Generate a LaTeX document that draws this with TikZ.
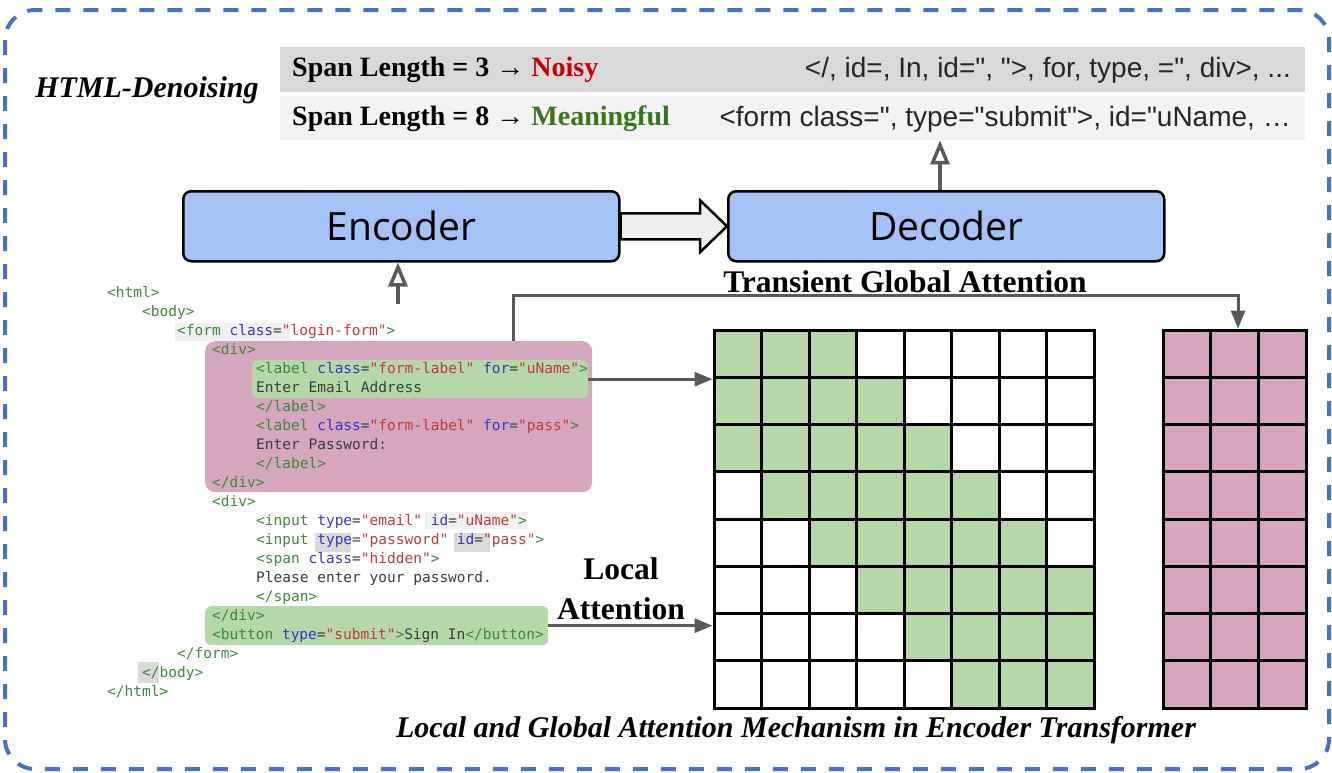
\documentclass[tikz,border=0pt]{standalone}
\usepackage{fontspec}
\setmainfont{Liberation Serif}
\newfontfamily\tokfont{Liberation Sans}
\newfontfamily\boxfont{Open Sans}
\newfontfamily\codefont{DejaVu Sans Mono}
\usetikzlibrary{arrows.meta,calc}

\definecolor{frameblue}{HTML}{4472C4}
\definecolor{barA}{HTML}{D9D9D9}
\definecolor{barB}{HTML}{F3F3F3}
\definecolor{noisy}{HTML}{CC0000}
\definecolor{meaning}{HTML}{38761D}
\definecolor{tokc}{HTML}{262626}
\definecolor{coderblue}{HTML}{A4C2F4}
\definecolor{blockfill}{HTML}{EFEFEF}
\definecolor{conngray}{HTML}{595959}
\definecolor{locg}{HTML}{B6D7A8}
\definecolor{globp}{HTML}{D5A6BD}
\definecolor{tagc}{HTML}{3A8A3A}
\definecolor{attc}{HTML}{3535C8}
\definecolor{valc}{HTML}{C03A3A}
\definecolor{txtc}{HTML}{3C3C3C}
\definecolor{selA}{HTML}{F0F0F0}
\definecolor{selB}{HTML}{DADADA}

% syntax colouring for the HTML listing
\newcommand\ctag[1]{\textcolor{tagc}{#1}}
\newcommand\catt[1]{\textcolor{attc}{#1}}
\newcommand\cval[1]{\textcolor{valc}{#1}}
\newcommand\ctxt[1]{\textcolor{txtc}{#1}}
\newcommand\ceq{\textcolor{txtc}{=}}

\begin{document}
\begin{tikzpicture}[x=1pt,y=-1pt,
  frame/.style={draw=frameblue, line width=4, rounded corners=30, dash pattern=on 15 off 13},
  bar/.style={rectangle, inner sep=0, minimum width=1025, anchor=north west},
  spanlbl/.style={font=\fontsize{28}{32}\selectfont\bfseries, inner sep=0, anchor=west},
  toklbl/.style={font=\tokfont\fontsize{28}{32}\selectfont, text=tokc, inner sep=0, anchor=east},
  titleBI/.style={font=\fontsize{30}{34}\selectfont\bfseries\itshape, inner sep=0},
  titleB/.style={font=\fontsize{31.5}{40}\selectfont\bfseries, inner sep=0, align=center},
  coder/.style={rectangle, draw=black, line width=2.5, rounded corners=8, fill=coderblue,
    minimum width=436, minimum height=70, anchor=north west,
    font=\boxfont\fontsize{39}{42}\selectfont},
  blockarrow/.style={draw=black, line width=2.5, fill=blockfill, line join=miter},
  hollow/.style={draw=conngray, line width=4, -{Triangle[open, length=24, width=19, line width=3.5]}},
  conn/.style={draw=conngray, line width=3, -{Triangle[length=18, width=14]}},
  codeline/.style={font=\codefont\fontsize{14.5}{19}\selectfont, inner sep=0, anchor=west,
    text height=11, text depth=3.5},
  hlbox/.style={rectangle, inner sep=0, anchor=north west},
  cell/.style={rectangle, draw=black, line width=3, inner sep=0}
]
\useasboundingbox (0,0) rectangle (1332,772);

% dashed outer frame
\draw[frame] (5,10) rectangle (1329,769);

% span-length rows
\node[bar, fill=barA, minimum height=45] (bar1) at (280,47) {};
\node[bar, fill=barB, minimum height=44] (bar2) at (280,96) {};
\node[spanlbl] (span1) at (292,70) {Span Length = 3 → \textcolor{noisy}{Noisy}};
\node[spanlbl] (span2) at (292,119) {Span Length = 8 → \textcolor{meaning}{Meaningful}};
\node[toklbl] (tok1) at (1291,70) {</, id=, In, id=", ">, for, type, =", div>, ...};
\node[toklbl] (tok2) at (1291,119) {<form class=", type="submit">, id="uName, …};
\node[titleBI] (denoise) at (147,90) {HTML-Denoising};

% encoder / decoder
\node[coder] (enc) at (182,190) {Encoder};
\node[coder] (dec) at (727,190) {Decoder};
\draw[blockarrow] ($(enc.east)+(0,-13)$) -- ($(dec.west)+(-27,-13)$) -- ($(dec.west)+(-27,-26)$)
  -- (dec.west) -- ($(dec.west)+(-27,26)$) -- ($(dec.west)+(-27,13)$) -- ($(enc.east)+(0,13)$) -- cycle;
\coordinate (decout) at (940,190);
\draw[hollow] (decout) -- (decout |- bar2.south);

% highlight boxes behind the listing
\node[hlbox, fill=globp, rounded corners=10, minimum width=387, minimum height=151] (pk) at (205,341) {};
\node[hlbox, fill=locg, rounded corners=6, minimum width=336, minimum height=38] (hl1) at (252,360) {};
\node[hlbox, fill=locg, rounded corners=6, minimum width=343, minimum height=39] (hl2) at (205,606) {};
\node[hlbox, fill=selA, minimum width=115, minimum height=18] (sel1) at (175,323) {};
\node[hlbox, fill=selA, minimum width=102, minimum height=17] (sel2) at (425,512) {};
\node[hlbox, fill=selB, minimum width=36, minimum height=19] (sel3) at (315,533) {};
\node[hlbox, fill=selB, minimum width=36, minimum height=19] (sel4) at (454,533) {};
\node[hlbox, fill=selB, minimum width=21, minimum height=21] (sel5) at (138,662) {};

% HTML listing
\node[codeline] (c1)  at (107,294) {\ctag{<html>}};
\node[codeline] (c2)  at (142,313) {\ctag{<body>}};
\node[codeline] (c3)  at (177,332) {\ctag{<form} \catt{class}\ceq\cval{"login-form"}\ctag{>}};
\node[codeline] (c4)  at (212,351) {\ctag{<div>}};
\node[codeline] (c5)  at (256,370) {\ctag{<label} \catt{class}\ceq\cval{"form-label"} \catt{for}\ceq\cval{"uName"}\ctag{>}};
\node[codeline] (c6)  at (256,389) {\ctxt{Enter Email Address}};
\node[codeline] (c7)  at (256,408) {\ctag{</label>}};
\node[codeline] (c8)  at (256,427) {\ctag{<label} \catt{class}\ceq\cval{"form-label"} \catt{for}\ceq\cval{"pass"}\ctag{>}};
\node[codeline] (c9)  at (256,446) {\ctxt{Enter Password:}};
\node[codeline] (c10) at (256,465) {\ctag{</label>}};
\node[codeline] (c11) at (212,484) {\ctag{</div>}};
\node[codeline] (c12) at (212,503) {\ctag{<div>}};
\node[codeline] (c13) at (256,522) {\ctag{<input} \catt{type}\ceq\cval{"email"} \catt{id}\ceq\cval{"uName"}\ctag{>}};
\node[codeline] (c14) at (256,541) {\ctag{<input} \catt{type}\ceq\cval{"password"} \catt{id}\ceq\cval{"pass"}\ctag{>}};
\node[codeline] (c15) at (256,560) {\ctag{<span} \catt{class}\ceq\cval{"hidden"}\ctag{>}};
\node[codeline] (c16) at (256,579) {\ctxt{Please enter your password.}};
\node[codeline] (c17) at (256,598) {\ctag{</span>}};
\node[codeline] (c18) at (212,617) {\ctag{</div>}};
\node[codeline] (c19) at (212,636) {\ctag{<button} \catt{type}\ceq\cval{"submit"}\ctag{>}\ctxt{Sign In}\ctag{</button>}};
\node[codeline] (c20) at (177,655) {\ctag{</form>}};
\node[codeline] (c21) at (142,674) {\ctag{</body>}};
\node[codeline] (c22) at (107,693) {\ctag{</html>}};

% listing feeds the encoder
\coordinate (codein) at (398,304);
\draw[hollow] (codein) -- (codein |- enc.south);

% local attention band matrix
\foreach \r in {0,...,7} {
  \foreach \c in {0,...,7} {
    \pgfmathtruncatemacro\dd{abs(\c-\r)}
    \ifnum\dd<3 \def\cf{locg}\else\def\cf{white}\fi
    \node[cell, fill=\cf, minimum width=47.5, minimum height=47.25]
      (g-\r-\c) at ({714+47.5*\c+23.75},{330+47.25*\r+23.625}) {};
  }
}
% global attention columns
\foreach \r in {0,...,7} {
  \foreach \c in {0,...,2} {
    \node[cell, fill=globp, minimum width=47.67, minimum height=47.25]
      (p-\r-\c) at ({1163+47.67*\c+23.83},{330+47.25*\r+23.625}) {};
  }
}

% attention connectors
\draw[conn] (hl1.east) -- (hl1.east -| g-0-0.west);
\draw[conn] (hl2.east) -- (hl2.east -| g-0-0.west);
\coordinate (tgbend) at (513,295);
\coordinate (tgdrop) at (1238,295);
\draw[conn] (tgbend |- pk.north) -- (tgbend) -- (tgdrop) -- (tgdrop |- p-0-1.north);

% labels
\node[titleB] (tga) at (905,282) {Transient Global Attention};
\node[titleB] (loc) at (621,589) {Local\\Attention};
\node[titleBI] (cap) at (796,730) {Local and Global Attention Mechanism in Encoder Transformer};
\end{tikzpicture}
\end{document}
